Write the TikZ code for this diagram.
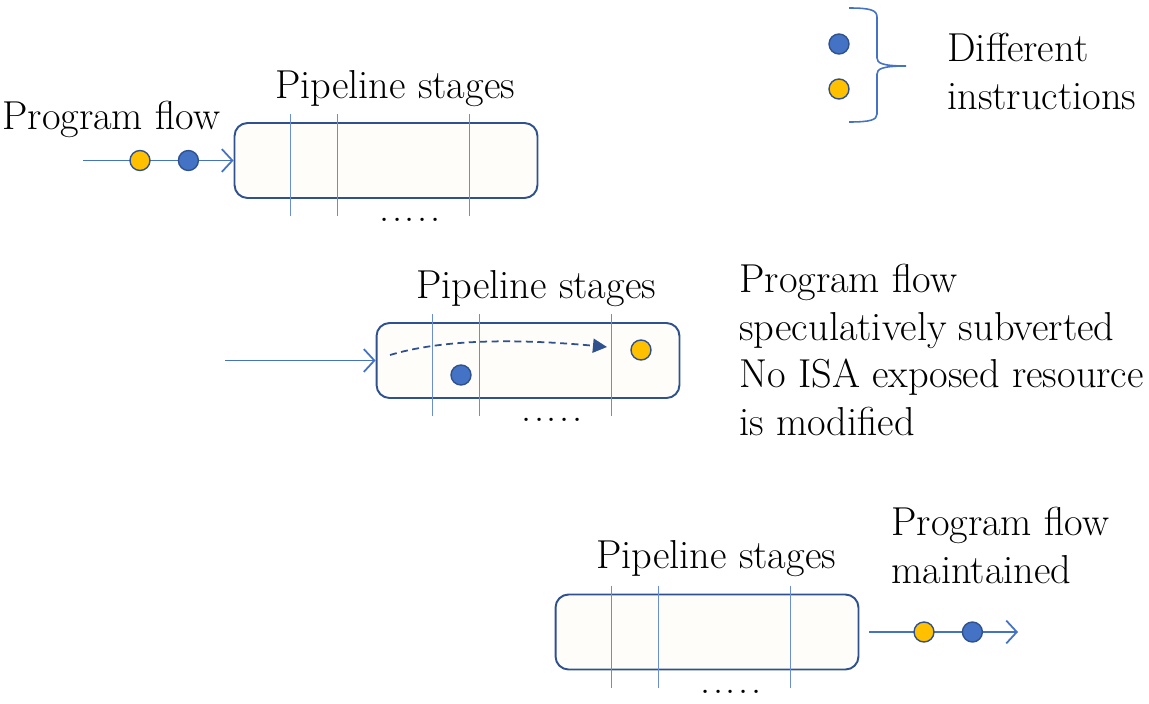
\documentclass[tikz,border=0pt]{standalone}
\usepackage{fontspec}
\setmainfont{Latin Modern Roman}
\usetikzlibrary{arrows.meta, positioning, calc}
\definecolor{PipeBlue}{HTML}{4472C4}
\definecolor{PipeDark}{HTML}{2F528F}
\definecolor{PipeGold}{HTML}{FFC000}
\definecolor{PipeFill}{HTML}{FFFDF9}
\definecolor{StageLine}{HTML}{6A8DD3}
\newcommand{\stagedots}{.\kern1.5pt.\kern1.5pt.\kern1.5pt.\kern1.5pt.}

\begin{document}
\begin{tikzpicture}[x=0.02cm, y=-0.02cm, >=Stealth,
        node distance=0.54cm,
        every node/.style={font=\fontsize{23}{27}\selectfont},
        pipebox/.style={rectangle, draw=PipeDark, fill=PipeFill, line width=1.1pt, rounded corners=0.26cm, minimum width=6.06cm, minimum height=1.5cm},
        stageline/.style={StageLine, line width=0.9pt},
        bdot/.style={circle, draw=PipeDark, fill=PipeBlue, line width=0.8pt, minimum size=0.4cm, inner sep=0pt},
        ydot/.style={bdot, fill=PipeGold},
        flow/.style={-{Straight Barb[length=6pt, width=13pt]}, PipeBlue, line width=1pt},
        spec/.style={-{Triangle[length=8pt, width=8pt]}, PipeDark, line width=1pt, dash pattern=on 4pt off 2.5pt},
        flowtext/.style={inner sep=0pt, align=left, anchor=north west},
        stagehead/.style={inner sep=0pt, anchor=base}]

        \useasboundingbox (0,0) rectangle (1149,703);

        \node[pipebox] (top) at (386,160.5) {};
        \node[pipebox] (mid) at (528,360.5) {};
        \node[pipebox] (bot) at (707,632) {};

        \foreach \b in {top,mid,bot} {
            \foreach \dx in {57,104,236}
                \draw[stageline] ($(\b.north west)+(\dx,-8)$) -- ++(0,102);
            \node[anchor=base, inner sep=0pt] (dots-\b) at ($(\b.south)+(24,23)$) {\stagedots};
        }

        \node[stagehead] (head-top) at (395,98) {Pipeline stages};
        \node[stagehead] (head-mid) at (536,298) {Pipeline stages};
        \node[stagehead] (head-bot) at (716,568) {Pipeline stages};

        \node[inner sep=0pt, anchor=base west] (pf-in) at (2,129) {Program flow};
        \coordinate (in-top) at (83,160.5);
        \draw[flow] (in-top) -- (top.west);
        \node[ydot] (y1) at (140,160.5) {};
        \node[bdot, right=of y1] (b1) {};

        \coordinate (in-mid) at (225,360.5);
        \draw[flow] (in-mid) -- (mid.west);
        \coordinate (spec-from) at (390,355);
        \coordinate (spec-to) at (607,347);
        \draw[spec] (spec-from) .. controls (440,340) and (510,338) .. (spec-to);
        \node[bdot] (b2) at (461,375) {};
        \node[ydot] (y2) at (641,350) {};
        \node[flowtext] (pf-spec) at (739,264) {Program flow\\speculatively subverted\\No ISA exposed resource\\is modified};

        \coordinate (out-bot) at (1018,632);
        \draw[flow, shorten <=0.2cm] (bot.east) -- (out-bot);
        \node[ydot] (y3) at (924,632) {};
        \node[bdot, right=of y3] (b3) {};
        \node[flowtext] (pf-out) at (891,507) {Program flow\\maintained};

        \node[bdot] (key-b) at (839,44) {};
        \node[ydot] (key-y) at (839,89) {};
        \draw[PipeBlue, line width=0.9pt] (849,8) .. controls (870,8) and (877,10) .. (877,17) -- (877,58)
            .. controls (877,63) and (882,66) .. (906,66) .. controls (882,66) and (877,69) .. (877,74) -- (877,114)
            .. controls (877,120) and (870,122) .. (849,122);
        \node[flowtext] (key-text) at (947,33) {Different\\instructions};
    \end{tikzpicture}
\end{document}
